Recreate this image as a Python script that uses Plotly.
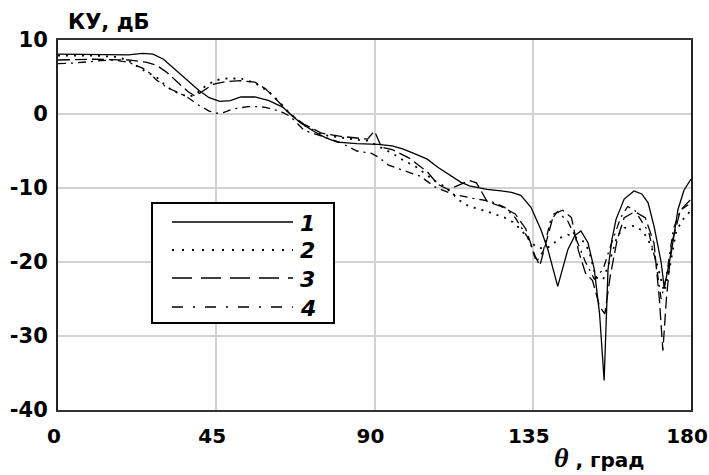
import plotly.graph_objects as go

# Canvas and plot-area margins (pixels)
W, H = 709, 475
ML, MR, MT, MB = 58, 18, 40, 65

# Curve 1 (solid)
theta_1 = [0, 10, 20, 24, 27, 30, 33, 36, 40, 43, 46, 49, 52, 56, 60, 64, 66, 69, 72.6, 76, 79.4,
           85, 91, 95, 98, 101, 105, 108, 111.7, 114.5, 117, 122, 126, 129, 131.6, 134.5, 137.3,
           139.3, 142.1, 143.5, 145, 147, 148.7, 150.7, 152.5, 154, 155.3, 156.4, 157.5, 158.7,
           161, 163.8, 166, 167.8, 169.5, 171.5, 172.4, 174.4, 176.3, 178, 180]
ku_1 = [8.1, 8.0, 8.0, 8.2, 8.1, 7.4, 6.1, 4.8, 3.2, 2.2, 1.7, 1.8, 2.3, 2.3, 1.8, 0.9, 0.0, -1.2, -2.3, -3.2, -3.8,
        -4.0, -4.1, -4.3, -4.7, -5.3, -6.1, -7.2, -8.4, -9.2, -9.7, -10.2, -10.4, -10.6, -11.0, -12.6, -15.6,
        -18.3, -23.3, -21.0, -18.3, -16.4, -15.8, -17.4, -21.0, -27.0, -36.0, -21.0, -17.0, -14.2,
        -11.5, -10.4, -10.8, -12.0, -15.2, -20.0, -23.5, -18.7, -12.9, -10.3, -8.8]

# Curve 2 (dotted)
theta_2 = [0, 10, 17, 20, 25, 28, 30, 32.4, 35, 37, 39, 42, 45, 48, 52, 56, 60, 63, 66, 70, 75, 80,
           85, 88, 91, 93, 95, 98, 102, 107, 110, 112, 114.5, 117, 121.6, 124.5, 127, 129.3, 131.6,
           133.6, 136, 138, 140, 142.5, 145, 148, 149.6, 151, 153, 155, 157, 159, 161, 163.8, 166.3,
           168, 169.6, 171, 172.4, 174, 175.8, 177.8, 180]
ku_2 = [7.9, 7.9, 7.7, 7.2, 5.7, 5.0, 4.1, 3.2, 2.7, 2.3, 2.6, 3.8, 4.6, 4.8, 4.8, 4.2, 3.0, 1.6, 0.0, -1.5, -2.8, -3.2,
        -3.5, -3.6, -4.3, -4.8, -5.3, -6.2, -7.2, -9.0, -9.8, -10.7, -11.8, -12.5, -13.1, -13.6, -14.0, -14.6, -15.6,
        -16.8, -18.0, -18.2, -17.9, -16.8, -16.3, -16.8, -17.3, -18.5, -22.1, -22.4, -19.7, -16.5, -15.4, -15.1, -15.8,
        -17.2, -19.0, -21.5, -24.0, -20.6, -15.8, -14.2, -13.0]

# Curve 3 (dashed)
theta_3 = [0, 10, 20, 25, 28, 31, 34, 37, 39, 41, 44, 48, 52, 56, 59, 62, 65, 66, 70, 75, 80, 85, 88,
           90, 92, 95, 100, 105, 108, 111, 114, 117, 119, 122, 126, 130, 133, 135.5, 137, 139, 141,
           143.5, 146, 148, 150, 152, 154, 155.5, 157, 159, 161, 164, 167, 169.5, 171, 172, 173,
           174.5, 177, 180]
ku_3 = [7.3, 7.4, 7.3, 7.0, 6.6, 5.6, 4.3, 3.0, 2.4, 3.0, 4.0, 4.4, 4.5, 4.3, 3.4, 2.0, 0.6, 0.0, -1.4, -2.6, -3.0, -3.3, -3.4,
        -2.3, -4.5, -4.8, -6.0, -7.8, -9.5, -10.2, -9.6, -9.0, -9.3, -11.8, -12.5, -13.5, -15.5, -19.0, -20.5, -17.0, -13.5,
        -13.0, -14.0, -18.5, -21.5, -22.5, -26.0, -27.0, -22.0, -17.0, -14.0, -13.2, -14.0, -17.5, -25.0, -32.0, -25.0,
        -17.5, -13.0, -11.5]

# Curve 4 (dash-dot)
theta_4 = [0, 5, 12, 16, 20, 25, 28, 31, 35, 37, 40, 43, 45, 47, 50, 54, 57, 59, 63, 66, 70, 75, 80,
           85, 89, 91, 94, 98, 103, 107, 112, 118, 123, 127, 130, 134, 136, 138, 140, 142, 145, 147,
           150, 152.5, 155, 157, 160, 162, 164, 166, 168, 170, 171.5, 173, 175, 177, 180]
ku_4 = [6.8, 6.9, 7.2, 7.3, 7.0, 6.0, 4.6, 3.6, 2.7, 2.2, 1.2, 0.4, 0.1, 0.2, 0.7, 1.0, 1.0, 0.9, 0.4, -0.3, -2.2, -3.0, -3.8,
        -5.0, -5.3, -5.8, -6.9, -7.6, -8.4, -9.8, -10.8, -11.4, -11.8, -12.6, -14.0, -17.0, -20.0, -18.5, -14.5, -13.2, -14.5, -16.5,
        -20.0, -22.3, -21.0, -18.0, -14.0, -12.5, -13.0, -14.5, -16.0, -20.0, -25.0, -22.0, -15.5, -13.0, -12.0]

labels = ["1", "2", "3", "4"]
curve_dash = ["solid", "2px,6px", "12px,5px", "8px,5px,2px,5px"]
legend_dash = ["solid", "2px,8px", "20px,9px", "11px,10px,2px,10px"]

x_ticks = [0, 45, 90, 135, 180]
x_tick_text = ["0", "45", "90", "135", "180"]
y_ticks = [-40, -30, -20, -10, 0, 10]
y_tick_text = ["-40", "-30", "-20", "-10", "0", "10"]


def px_x(px):
    return (px - ML) / (W - ML - MR)


def px_y(py):
    return 1 - (py - MT) / (H - MT - MB)


fig = go.Figure()
series = [(theta_1, ku_1), (theta_2, ku_2), (theta_3, ku_3), (theta_4, ku_4)]
for (th, ku), dash, name in zip(series, curve_dash, labels):
    fig.add_trace(go.Scatter(
        x=th, y=ku, mode="lines", name=name, showlegend=False,
        line=dict(color="black", width=1.3 if dash != "2px,6px" else 1.8, dash=dash),
    ))

fig.update_xaxes(
    range=[0, 180], tickvals=x_ticks, ticktext=x_tick_text, ticks="",
    tickfont=dict(family="DejaVu Sans", size=20, color="black", weight="bold"),
    showgrid=True, gridcolor="#d2d2d2", gridwidth=1.5, zeroline=False, automargin=False,
    showline=True, linecolor="#333333", linewidth=2, mirror=True, ticklabelstandoff=7,
    ticklabeloverflow="allow", ticklabelshift=-4,
)
fig.update_yaxes(
    range=[-40, 10], tickvals=y_ticks, ticktext=y_tick_text, ticks="",
    tickfont=dict(family="DejaVu Sans", size=21, color="black", weight="bold"),
    showgrid=True, gridcolor="#d2d2d2", gridwidth=1.5, zeroline=False, automargin=False,
    showline=True, linecolor="#222222", linewidth=2, mirror=True, ticklabelstandoff=4,
    ticklabeloverflow="allow",
)

# Hand-drawn legend box with line samples
shapes = [dict(type="rect", xref="paper", yref="paper",
               x0=px_x(152), x1=px_x(334), y0=px_y(323), y1=px_y(203),
               line=dict(color="black", width=2), fillcolor="white", layer="above")]
annotations = []
rows = [222, 250, 278, 307]
for lab, dash, row in zip(labels, legend_dash, rows):
    shapes.append(dict(type="line", xref="paper", yref="paper",
                       x0=px_x(172), x1=px_x(293), y0=px_y(row), y1=px_y(row),
                       line=dict(color="black", width=1.6 if dash != "2px,8px" else 2, dash=dash),
                       layer="above"))
    annotations.append(dict(xref="paper", yref="paper", x=px_x(298), y=px_y(row + 1),
                            xanchor="left", yanchor="middle", showarrow=False,
                            text=f"<b><i>{lab}</i></b>",
                            font=dict(family="DejaVu Sans", size=22, color="black")))

# Axis titles
annotations.append(dict(xref="paper", yref="paper", x=px_x(66), y=px_y(22),
                        xanchor="left", yanchor="middle", showarrow=False,
                        text="<b>КУ, дБ</b>",
                        font=dict(family="DejaVu Sans", size=21, color="black")))
annotations.append(dict(xref="paper", yref="paper", x=px_x(552), y=px_y(457),
                        xanchor="left", yanchor="middle", showarrow=False,
                        text="<span style='font-family:Liberation Serif;font-size:28px'><b><i>θ</i></b></span><b> , град</b>",
                        font=dict(family="DejaVu Sans", size=20, color="black")))

fig.update_layout(
    width=W, height=H,
    margin=dict(l=ML, r=MR, t=MT, b=MB, autoexpand=False),
    paper_bgcolor="white", plot_bgcolor="white",
    showlegend=False,
    shapes=shapes, annotations=annotations,
)

fig.write_html("out.html")
